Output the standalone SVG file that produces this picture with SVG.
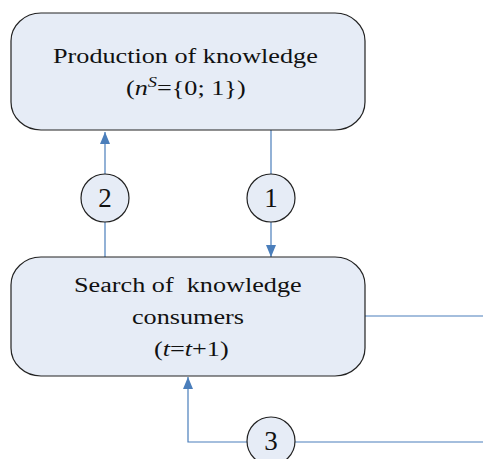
<svg xmlns="http://www.w3.org/2000/svg" width="483" height="459" viewBox="0 0 483 459">
<defs>
<style>
.box{fill:#e6ecf6;stroke:#222;stroke-width:1.2}
.circ{fill:#e6ecf6;stroke:#222;stroke-width:1.2}
.line{fill:none;stroke:#4a7ebb;stroke-width:1.2}
.t{font-family:"Liberation Serif","Times New Roman",serif;font-size:20px;fill:#111;white-space:pre}
.n{font-family:"Liberation Serif","Times New Roman",serif;font-size:27px;fill:#111;text-anchor:middle}
</style>
<marker id="ah" viewBox="0 0 12 10" refX="12" refY="5" markerWidth="12" markerHeight="10" markerUnits="userSpaceOnUse" orient="auto">
<path d="M0,0 L12,5 L0,10 Z" fill="#4a7ebb"/>
</marker>
</defs>
<rect width="483" height="459" fill="#fff"/>
<g id="connectors">
<line class="line" x1="105" y1="257" x2="105" y2="132" marker-end="url(#ah)"/>
<line class="line" x1="271" y1="130" x2="271" y2="257" marker-end="url(#ah)"/>
<line class="line" x1="365" y1="316" x2="483" y2="316"/>
<polyline class="line" points="483,442 188,442 188,377" marker-end="url(#ah)"/>
</g>
<g id="production">
<rect class="box" x="11" y="13" width="354" height="117" rx="30" ry="28"/>
<text class="t" transform="translate(53,63) scale(1.31,1)">Production of knowledge</text>
<text class="t" transform="translate(126,95) scale(1.31,1)">(<tspan font-style="italic">n</tspan><tspan font-style="italic" font-size="14" dy="-8">S</tspan><tspan dy="8">={0; 1})</tspan></text>
</g>
<g id="search">
<rect class="box" x="11" y="257" width="354" height="119" rx="30" ry="28"/>
<text class="t" xml:space="preserve" transform="translate(74,292) scale(1.31,1)">Search of  knowledge</text>
<text class="t" transform="translate(132,324) scale(1.31,1)">consumers</text>
<text class="t" transform="translate(154,356) scale(1.31,1)">(<tspan font-style="italic">t</tspan>=<tspan font-style="italic">t</tspan>+1)</text>
</g>
<g id="c2">
<circle class="circ" cx="105" cy="198" r="24"/>
<text class="n" x="105" y="207">2</text>
</g>
<g id="c1">
<circle class="circ" cx="271" cy="198" r="24"/>
<text class="n" x="271" y="207">1</text>
</g>
<g id="c3">
<circle class="circ" cx="271" cy="441" r="24"/>
<text class="n" x="271" y="450">3</text>
</g>
</svg>
